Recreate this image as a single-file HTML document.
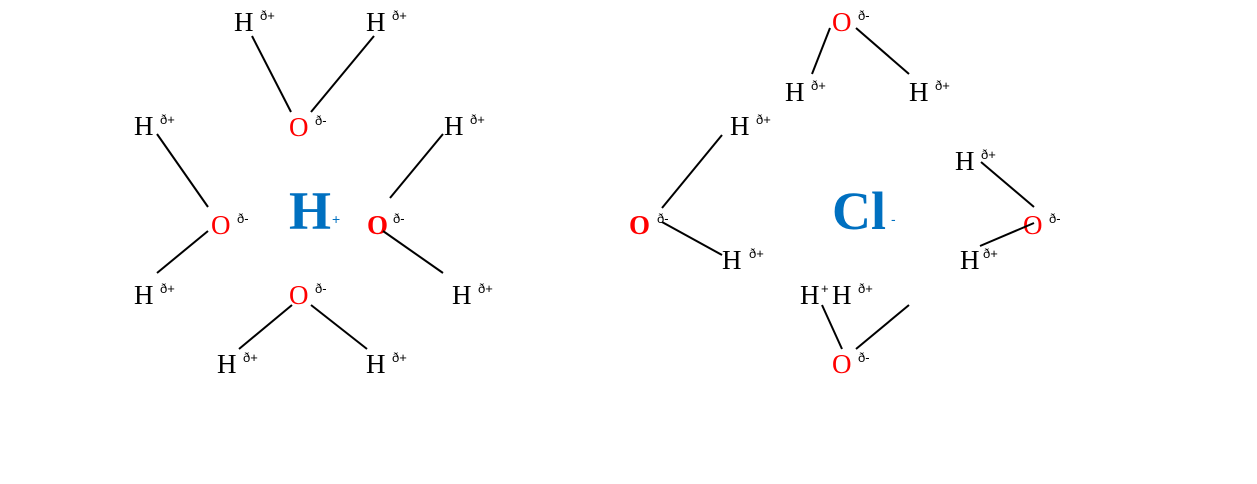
<!DOCTYPE html>
<html><head><meta charset="utf-8"><style>
html,body{margin:0;padding:0;background:#fff;}
svg{display:block;}
text{font-family:"Liberation Serif",serif;}
.a{font-size:27px;fill:#000;}
.o{font-size:27px;fill:#f00;}
.ob{font-size:27px;fill:#f00;font-weight:bold;}
.s{font-size:13px;fill:#000;font-family:"Liberation Sans",sans-serif;}
.b{font-size:54px;fill:#0070c0;font-weight:bold;}
.bs{font-size:14px;fill:#0070c0;font-family:"Liberation Sans",sans-serif;}
line{stroke:#000;stroke-width:2;}
</style></head><body>
<svg width="1257" height="484" xmlns="http://www.w3.org/2000/svg">
<!-- left -->
<text class="a" x="234" y="31">H</text><text class="s" x="260" y="20">ð+</text>
<text class="a" x="366" y="31">H</text><text class="s" x="392" y="20">ð+</text>
<text class="o" x="289" y="136">O</text><text class="s" x="315" y="125">ð-</text>
<text class="a" x="134" y="135">H</text><text class="s" x="160" y="124">ð+</text>
<text class="a" x="444" y="135">H</text><text class="s" x="470" y="124">ð+</text>
<text class="o" x="211" y="234">O</text><text class="s" x="237" y="223">ð-</text>
<text class="b" x="289" y="229">H</text><text class="bs" x="332" y="224">+</text>
<text class="ob" x="367" y="234">O</text><text class="s" x="393" y="223">ð-</text>
<text class="a" x="134" y="304">H</text><text class="s" x="160" y="293">ð+</text>
<text class="o" x="289" y="304">O</text><text class="s" x="315" y="293">ð-</text>
<text class="a" x="452" y="304">H</text><text class="s" x="478" y="293">ð+</text>
<text class="a" x="217" y="373">H</text><text class="s" x="243" y="362">ð+</text>
<text class="a" x="366" y="373">H</text><text class="s" x="392" y="362">ð+</text>
<line x1="252" y1="36" x2="291" y2="112"/>
<line x1="374" y1="36" x2="311" y2="112"/>
<line x1="157" y1="134" x2="208" y2="207"/>
<line x1="208" y1="231" x2="157" y2="273"/>
<line x1="443" y1="134" x2="390" y2="198"/>
<line x1="383" y1="231" x2="443" y2="273"/>
<line x1="292" y1="305" x2="239" y2="349"/>
<line x1="311" y1="305" x2="367" y2="349"/>
<!-- right -->
<text class="o" x="832" y="31">O</text><text class="s" x="858" y="20">ð-</text>
<text class="a" x="785" y="101">H</text><text class="s" x="811" y="90">ð+</text>
<text class="a" x="909" y="101">H</text><text class="s" x="935" y="90">ð+</text>
<line x1="830" y1="28" x2="812" y2="74"/>
<line x1="856" y1="28" x2="909" y2="74"/>
<text class="a" x="730" y="135">H</text><text class="s" x="756" y="124">ð+</text>
<line x1="722" y1="135" x2="662" y2="208"/>
<text class="ob" x="629" y="234">O</text><text class="s" x="657" y="223">ð-</text>
<line x1="662" y1="222" x2="722" y2="255"/>
<text class="a" x="722" y="269">H</text><text class="s" x="749" y="258">ð+</text>
<text class="b" x="832" y="229">Cl</text><text class="bs" x="891" y="224">-</text>
<text class="a" x="955" y="170">H</text><text class="s" x="981" y="159">ð+</text>
<line x1="981" y1="162" x2="1034" y2="207"/>
<text class="o" x="1023" y="234">O</text><text class="s" x="1049" y="223">ð-</text>
<line x1="1034" y1="223" x2="980" y2="246"/>
<text class="a" x="960" y="269">H</text><text class="s" x="983" y="258">ð+</text>
<text class="a" x="800" y="304">H</text><text class="s" x="821" y="293">+</text>
<text class="a" x="832" y="304">H</text><text class="s" x="858" y="293">ð+</text>
<line x1="822" y1="305" x2="842" y2="349"/>
<line x1="856" y1="349" x2="909" y2="305"/>
<text class="o" x="832" y="373">O</text><text class="s" x="858" y="362">ð-</text>
</svg>
</body></html>
